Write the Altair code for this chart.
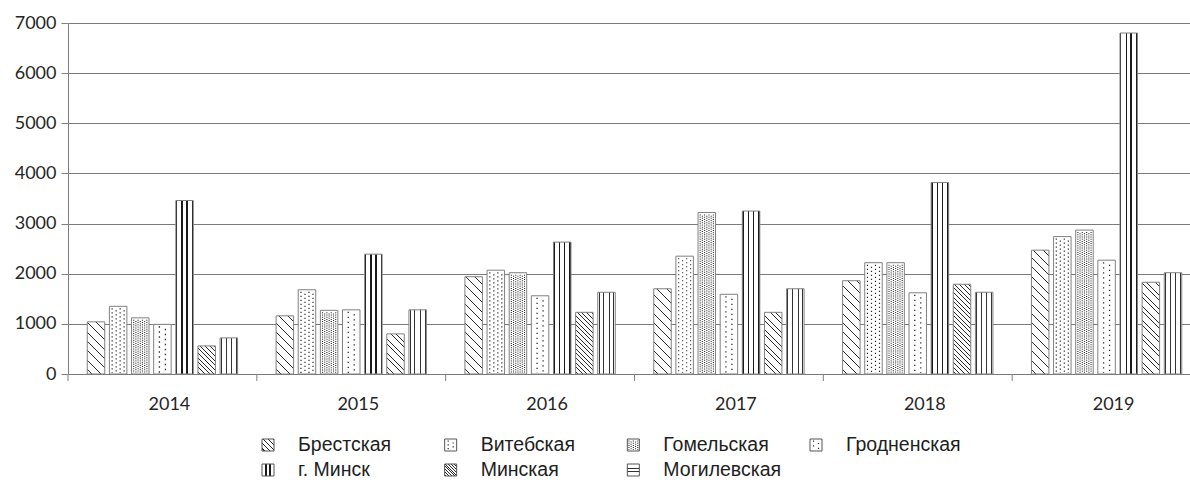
import math
import altair as alt

# ---- data -------------------------------------------------------------
YEARS = ["2014", "2015", "2016", "2017", "2018", "2019"]
REGIONS = ["Брестская", "Витебская", "Гомельская", "Гродненская",
           "г. Минск", "Минская", "Могилевская"]

BREST = [1040, 1160, 1940, 1700, 1860, 2470]
VITEBSK = [1350, 1680, 2070, 2350, 2220, 2740]
GOMEL = [1120, 1270, 2020, 3220, 2220, 2870]
GRODNO = [990, 1280, 1560, 1590, 1620, 2270]
MINSK_CITY = [3460, 2390, 2630, 3250, 3820, 6800]
MINSK_REGION = [560, 800, 1230, 1230, 1790, 1830]
MOGILEV = [720, 1280, 1630, 1700, 1630, 2020]

SERIES = [BREST, VITEBSK, GOMEL, GRODNO, MINSK_CITY, MINSK_REGION, MOGILEV]
Y_TICKS = [0, 1000, 2000, 3000, 4000, 5000, 6000, 7000]

# ---- layout -----------------------------------------------------------
PLOT_W, PLOT_H = 1122, 351
X_SPAN = 1133            # six year bands; the last one runs past the right edge
Y_MAX = 7000
PAD_IN, PAD_OUT = 0.21, 0.87

INK = "#1a1a1a"
HATCH = "#2a2a2a"
DOT = "#2b2b2b"
EDGE = "#808080"
GRID = "#7a7a7a"
TEXT = "#262626"

band = X_SPAN / len(YEARS)
n_reg = len(REGIONS)
step = band / (n_reg - PAD_IN + 2 * PAD_OUT)
bar_w = step * (1 - PAD_IN)
first = (band - step * (n_reg - PAD_IN)) / 2

SQ2 = math.sqrt(2)


def _stop(o, c):
    return {"offset": round(min(max(o, 0.0), 1.0), 5), "color": c}


def hatch(w, h, gap, thick, ink=HATCH):
    """Diagonal '\\' hatching with a constant pixel gap on a w x h box."""
    r = h / w
    k = (1 + r) / (1 + r * r)
    span = w + h
    period = gap * SQ2
    half = thick * SQ2 / 2
    stops = [_stop(0, "white")]
    c = period / 2
    while c - half < span:
        a = max(c - half, 0) / span
        b = min(c + half, span) / span
        stops += [_stop(a, "white"), _stop(a, ink), _stop(b, ink), _stop(b, "white")]
        c += period
    stops.append(_stop(1, "white"))
    return {"gradient": "linear", "x1": 0, "y1": 1, "x2": k, "y2": 1 - k * r,
            "stops": stops}


def stripes(bands, ink=INK, across=True):
    """Straight stripes; across=True gives vertical lines."""
    stops = [_stop(0, "white")]
    for a, b in bands:
        stops += [_stop(a, "white"), _stop(a, ink), _stop(b, ink), _stop(b, "white")]
    stops.append(_stop(1, "white"))
    if across:
        return {"gradient": "linear", "x1": 0, "y1": 0, "x2": 1, "y2": 0, "stops": stops}
    return {"gradient": "linear", "x1": 0, "y1": 0, "x2": 1e-6, "y2": 1, "stops": stops}


def bar_fill(region, value):
    h = value / Y_MAX * PLOT_H
    if region == "Брестская":
        return hatch(bar_w, h, 6.6, 0.72)
    if region == "Минская":
        return hatch(bar_w, h, 3.3, 0.62)
    if region == "г. Минск":
        return stripes([(0, 0.085), (0.32, 0.4), (0.6, 0.68), (0.915, 1)])
    if region == "Могилевская":
        return stripes([(0.05, 0.1), (0.31, 0.37), (0.63, 0.69), (0.9, 0.95)], ink="#333333")
    return "white"


def legend_fill(region):
    if region == "Брестская":
        return hatch(12, 12, 3.6, 0.8)
    if region == "Минская":
        return hatch(12, 12, 2.0, 0.7)
    if region == "г. Минск":
        return stripes([(0.27, 0.42), (0.58, 0.73)])
    if region == "Могилевская":
        return stripes([(0.3, 0.4), (0.6, 0.7)], ink="#333333", across=False)
    return "white"


bar_rows = []
for region, values in zip(REGIONS, SERIES):
    for year, v in zip(YEARS, values):
        bar_rows.append({"year": year, "region": region, "value": v,
                         "pattern": bar_fill(region, v)})
bar_src = alt.Data(values=bar_rows)

legend_rows = [{"region": r, "col": i % 4, "row": i // 4, "pattern": legend_fill(r)}
               for i, r in enumerate(REGIONS)]
legend_src = alt.Data(values=legend_rows)

x_scale = alt.Scale(domain=YEARS, range=[0, X_SPAN], paddingInner=0, paddingOuter=0)
y_scale = alt.Scale(domain=[0, Y_MAX], nice=False)
lx_scale = alt.Scale(domain=[0, 3], range=[200, 748])
ly_scale = alt.Scale(domain=[0, 1], range=[422, 447])

# ---- bars -------------------------------------------------------------
bars = alt.Chart(bar_src).mark_bar(stroke=EDGE, strokeWidth=1).encode(
    x=alt.X("year:N", scale=x_scale,
            axis=alt.Axis(title=None, domain=False, ticks=False, grid=False,
                          labelAngle=0, labelFont="Lato", labelFontSize=18,
                          labelColor=TEXT, labelPadding=21, labelOffset=7)),
    xOffset=alt.XOffset("region:N",
                        scale=alt.Scale(domain=REGIONS, paddingInner=PAD_IN,
                                        paddingOuter=PAD_OUT)),
    y=alt.Y("value:Q", stack=None, scale=y_scale,
            axis=alt.Axis(title=None, values=Y_TICKS, format="d", grid=True,
                          gridColor=GRID, gridWidth=1, domainColor=EDGE,
                          tickColor=EDGE, tickSize=7, labelFont="Lato",
                          labelFontSize=18, labelColor=TEXT, labelPadding=5)),
    fill=alt.Fill("pattern:N", scale=None),
)

# ticks between the year groups
year_ticks = alt.Chart(alt.Data(values=[{"year": y} for y in YEARS])).mark_rule(
    color=EDGE, strokeWidth=1
).encode(
    x=alt.X("year:N", bandPosition=0, scale=x_scale, axis=None),
    y=alt.value(PLOT_H),
    y2=alt.value(PLOT_H + 7),
)

# dotted fills drawn as dashed vertical rules inside the bars
BAR_DOTS = {
    "Витебская": dict(cols=[-6, -2, 2, 6], dash=[1.2, 2.8], width=1.2),
    "Гомельская": dict(cols=[-6.6, -4.4, -2.2, 0, 2.2, 4.4, 6.6], dash=[1.0, 1.2], width=1.1),
    "Гродненская": dict(cols=[-3, 3], dash=[1.3, 3.7], width=1.3),
}

dot_layers = []
for region, spec in BAR_DOTS.items():
    i = REGIONS.index(region)
    period = sum(spec["dash"])
    for j, cx in enumerate(spec["cols"]):
        bp = (first + i * step + bar_w / 2 + cx) / band
        dot_layers.append(
            alt.Chart(bar_src).transform_filter(alt.datum.region == region).mark_rule(
                color=DOT, strokeWidth=spec["width"], strokeDash=spec["dash"],
                strokeDashOffset=(period / 2) * (j % 2), yOffset=2, y2Offset=-1,
            ).encode(
                x=alt.X("year:N", bandPosition=bp, scale=x_scale, axis=None),
                y=alt.Y("value:Q", scale=y_scale, axis=None),
                y2=alt.datum(0),
            )
        )

# ---- legend -----------------------------------------------------------
legend_sym = alt.Chart(legend_src).mark_square(
    size=144, stroke="#555555", strokeWidth=1, opacity=1
).encode(
    x=alt.X("col:Q", scale=lx_scale, axis=None),
    y=alt.Y("row:Q", scale=ly_scale, axis=None),
    fill=alt.Fill("pattern:N", scale=None),
)

LEGEND_DOTS = {
    "Витебская": dict(cols=[-2.5, 2.5], dash=[1.2, 2.6], width=1.2),
    "Гомельская": dict(cols=[-4.4, -2.2, 0, 2.2, 4.4], dash=[1.0, 1.2], width=1.1),
    "Гродненская": dict(cols=[-2.5, 2.5], dash=[1.2, 3.6], width=1.2),
}

legend_dots = []
for region, spec in LEGEND_DOTS.items():
    period = sum(spec["dash"])
    for j, cx in enumerate(spec["cols"]):
        legend_dots.append(
            alt.Chart(legend_src).transform_filter(alt.datum.region == region).mark_rule(
                color=DOT, strokeWidth=spec["width"], strokeDash=spec["dash"],
                strokeDashOffset=(period / 2) * (j % 2),
                xOffset=cx, yOffset=-4.5, y2Offset=5,
            ).encode(
                x=alt.X("col:Q", scale=lx_scale, axis=None),
                y=alt.Y("row:Q", scale=ly_scale, axis=None),
                y2=alt.Y2("row"),
            )
        )

legend_text = alt.Chart(legend_src).mark_text(
    align="left", baseline="middle", dx=30, font="Liberation Sans",
    fontSize=19.5, color="#1e1e1e"
).encode(
    x=alt.X("col:Q", scale=lx_scale, axis=None),
    y=alt.Y("row:Q", scale=ly_scale, axis=None),
    text="region:N",
)

chart = alt.layer(
    bars, year_ticks, *dot_layers, legend_sym, *legend_dots, legend_text
).resolve_scale(
    x="independent", y="independent"
).properties(
    width=PLOT_W,
    height=PLOT_H,
    autosize=alt.AutoSizeParams(type="none"),
    padding={"left": 68, "top": 23, "right": 0, "bottom": 115},
    background="white",
).configure_view(stroke=None)

chart.save("out.html", embed_options={"renderer": "svg", "actions": False})
